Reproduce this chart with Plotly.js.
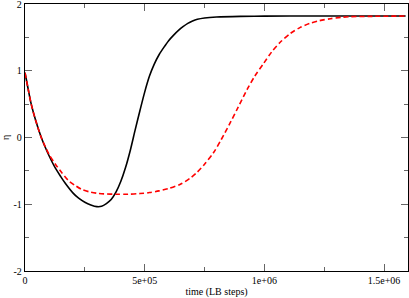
<!DOCTYPE html>
<html><head><meta charset="utf-8">
<script src="https://cdn.plot.ly/plotly-3.0.1.min.js"></script>
<style>html,body{margin:0;padding:0;background:#fff}#c{width:409px;height:298px}</style>
</head><body><div id="c"></div>
<script>
const blackT = [0,0.013,0.026,0.045,0.068,0.085,0.10,0.127,0.15,0.169,0.20,0.224,0.25,0.275,0.30,0.32,0.34,0.36,0.38,0.40,0.42,0.44,0.46,0.48,0.50,0.52,0.54,0.56,0.58,0.60,0.62,0.64,0.66,0.68,0.70,0.72,0.75,0.80,0.90,1.0,1.2,1.4,1.59].map(v=>v*1e6);
const blackEta = [0.97,0.73,0.50,0.25,0.0,-0.15,-0.27,-0.46,-0.59,-0.69,-0.83,-0.91,-0.97,-1.01,-1.035,-1.03,-0.99,-0.93,-0.82,-0.66,-0.45,-0.19,0.11,0.40,0.68,0.92,1.10,1.24,1.35,1.45,1.53,1.60,1.66,1.71,1.745,1.77,1.79,1.805,1.815,1.818,1.82,1.82,1.82];
const redT = [0,0.013,0.026,0.045,0.068,0.085,0.10,0.127,0.15,0.183,0.21,0.238,0.27,0.30,0.33,0.38,0.43,0.48,0.52,0.56,0.60,0.649,0.69,0.718,0.75,0.788,0.82,0.858,0.89,0.928,0.96,0.997,1.03,1.067,1.109,1.15,1.19,1.23,1.276,1.32,1.36,1.45,1.59].map(v=>v*1e6);
const redEta = [0.97,0.73,0.50,0.25,0.0,-0.14,-0.25,-0.40,-0.51,-0.65,-0.72,-0.78,-0.815,-0.835,-0.845,-0.85,-0.85,-0.84,-0.825,-0.80,-0.765,-0.70,-0.61,-0.525,-0.40,-0.225,-0.03,0.225,0.45,0.72,0.92,1.11,1.28,1.43,1.56,1.65,1.71,1.75,1.78,1.80,1.81,1.815,1.82];
const xTickVals = [0,5e5,1e6,1.5e6];
const xTickText = ["0","5e+05","1e+06","1.5e+06"];
const yTickVals = [-2,-1,0,1,2];
const yTickText = ["-2","-1","0","1","2"];

const font = {family:"Liberation Serif, Times New Roman, serif", size:10, color:"#000"};
const traces = [
  {x:blackT, y:blackEta, mode:"lines", line:{color:"#000", width:1.6, shape:"spline", smoothing:0.8}, hoverinfo:"skip"},
  {x:redT, y:redEta, mode:"lines", line:{color:"#ff0000", width:1.6, dash:"5px,3px", shape:"spline", smoothing:0.8}, hoverinfo:"skip"}
];
const axisCommon = {showgrid:false, zeroline:false, showline:true, linecolor:"#000", linewidth:1.2, mirror:"ticks",
  ticks:"inside", ticklen:7, tickwidth:1, tickcolor:"#666", tickfont:font, ticklabeloverflow:"allow"};
const layout = {
  width:409, height:298, margin:{l:25, r:1, t:4, b:27},
  paper_bgcolor:"#fff", plot_bgcolor:"#fff", showlegend:false, font:font,
  xaxis: Object.assign({}, axisCommon, {range:[0,1.6e6], tickmode:"array", tickvals:xTickVals, ticktext:xTickText,
    minor:{tickmode:"linear", tick0:0, dtick:2.5e5, ticklen:4, tickcolor:"#666", ticks:"inside"},
    title:{text:"time (LB steps)", font:font, standoff:2}}),
  yaxis: Object.assign({}, axisCommon, {range:[-2,2], tickmode:"array", tickvals:yTickVals, ticktext:yTickText,
    minor:{tickmode:"linear", tick0:0, dtick:0.5, ticklen:4, tickcolor:"#666", ticks:"inside"},
    title:{text:"η", font:font, standoff:4}})
};
Plotly.newPlot("c", traces, layout, {staticPlot:true, displayModeBar:false});
</script></body></html>
